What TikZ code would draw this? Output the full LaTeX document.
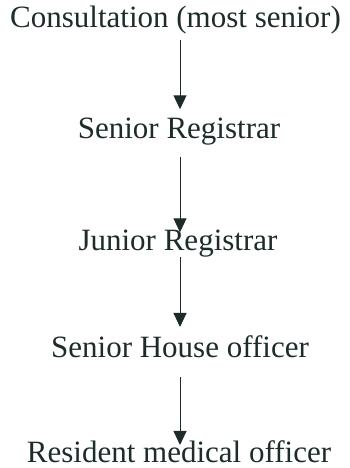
\documentclass[tikz,border=0pt]{standalone}
\usepackage{fontspec}
\setmainfont{Liberation Serif}
\usetikzlibrary{arrows.meta,positioning}
\definecolor{ink}{HTML}{1E2B2B}

\begin{document}
\begin{tikzpicture}[x=1pt,y=-1pt,
  rank/.style={inner sep=0pt, anchor=base, text=ink, font=\fontsize{31}{34}\selectfont},
  arr/.style={-{Triangle[length=14pt,width=13pt]}, line width=1pt, ink}
]
  \useasboundingbox (0,0) rectangle (350,468);
  \node[rank] (cons) at (175.5,28) {Consultation (most senior)};
  \node[rank] (sreg) at (179,139) {Senior Registrar};
  \node[rank] (jreg) at (178,250) {Junior Registrar};
  \node[rank] (sho) at (180,357) {Senior House officer};
  \node[rank] (rmo) at (179,462) {Resident medical officer};

  \draw[arr, shorten <=5pt, shorten >=9pt] ([xshift=4.5pt]cons.south) -- ([xshift=4.5pt]cons.south |- sreg.north);
  \draw[arr, shorten <=11pt, shorten >=-3pt] ([xshift=1pt]sreg.south) -- ([xshift=1pt]sreg.south |- jreg.north);
  \draw[arr, shorten <=0pt, shorten >=8pt] ([xshift=2pt]jreg.south) -- ([xshift=2pt]jreg.south |- sho.north);
  \draw[arr, shorten <=19pt, shorten >=-5pt] ([xshift=0pt]sho.south) -- ([xshift=0pt]sho.south |- rmo.north);
\end{tikzpicture}
\end{document}
